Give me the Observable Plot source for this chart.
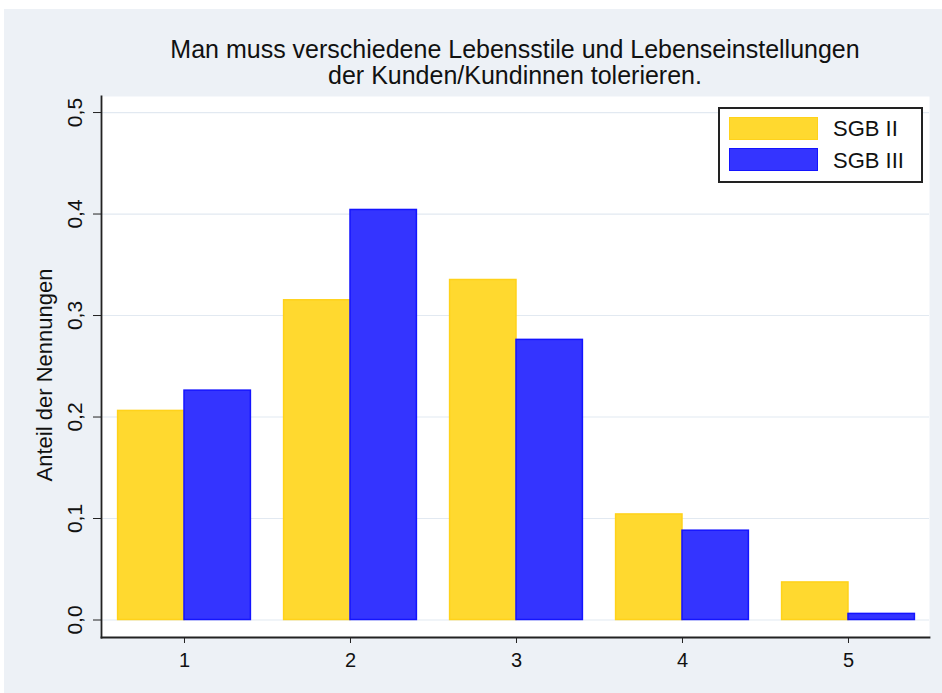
<!DOCTYPE html>
<html><head><meta charset="utf-8">
<script src="https://cdn.jsdelivr.net/npm/d3@7"></script>
<script src="https://cdn.jsdelivr.net/npm/@observablehq/plot@0.6"></script>
<style>
body{margin:0;background:#fff;font-family:"Liberation Sans",Arial,sans-serif;}
#wrap{position:absolute;left:4px;top:9px;width:938px;height:684px;background:#EDF1F6;overflow:hidden;}
#chart{position:absolute;left:0;top:0;}
#title{position:absolute;left:97px;width:828px;top:27px;text-align:center;font-size:25px;line-height:26px;color:#111;}
#ylab{position:absolute;left:41px;top:366px;transform:translate(-50%,-50%) rotate(-90deg);white-space:nowrap;font-size:22px;color:#111;}
#legend{position:absolute;left:714px;top:98px;width:201px;height:72px;background:#fff;border:2px solid #222;}
.sw{position:absolute;left:9px;width:89px;height:23px;box-sizing:border-box;}
.lt{position:absolute;left:113px;font-size:22px;line-height:22px;color:#111;transform:translateY(-50%);}
</style></head>
<body>
<div id="wrap">
<div id="chart"></div>
<div id="title">Man muss verschiedene Lebensstile und Lebenseinstellungen<br>der Kunden/Kundinnen tolerieren.</div>
<div id="ylab">Anteil der Nennungen</div>
<div id="legend"></div>
</div>
<script>
const categories = [1, 2, 3, 4, 5];
const seriesNames = ["SGB II", "SGB III"];
const sgb2 = [0.206, 0.315, 0.335, 0.104, 0.037];
const sgb3 = [0.226, 0.404, 0.276, 0.088, 0.006];
const yTicks = [0, 0.1, 0.2, 0.3, 0.4, 0.5];

const fills = {"SGB II": "#FFD92F", "SGB III": "#3434FF"};
const strokes = {"SGB II": "#FFD21A", "SGB III": "#1414FF"};

const data = [];
categories.forEach((c, i) => {
  data.push({cat: c, series: seriesNames[0], value: sgb2[i]});
  data.push({cat: c, series: seriesNames[1], value: sgb3[i]});
});
const fmt = d => d.toFixed(1).replace(".", ",");

const chart = Plot.plot({
  width: 938,
  height: 684,
  marginLeft: 97,
  marginRight: 13,
  marginTop: 87,
  marginBottom: 56,
  style: {background: "transparent", fontFamily: "Liberation Sans, Arial, sans-serif", color: "#111"},
  x: {type: "linear", domain: [0.5, 5.488]},
  y: {domain: [-0.01724, 0.5158]},
  marks: [
    Plot.frame({fill: "white", stroke: null}),
    Plot.gridY(yTicks, {stroke: "#E2E9F1", strokeOpacity: 1, strokeWidth: 1.2}),
    Plot.rectY(data, {
      x1: d => d.series === "SGB II" ? d.cat - 0.4 : d.cat,
      x2: d => d.series === "SGB II" ? d.cat : d.cat + 0.4,
      y1: 0,
      y2: "value",
      fill: d => fills[d.series],
      stroke: d => strokes[d.series],
      strokeWidth: 1.5
    }),
    Plot.axisY(yTicks, {tickSize: 8, tickPadding: 12, tickRotate: -90, tickFormat: fmt, fontSize: 21, label: null, stroke: "#222"}),
    Plot.axisX(categories, {tickSize: 6, tickPadding: 9, tickFormat: d => String(d), fontSize: 20, label: null, stroke: "#222"}),
    Plot.frame({anchor: "left", stroke: "#222", strokeWidth: 1.8}),
    Plot.frame({anchor: "bottom", stroke: "#222", strokeWidth: 1.8})
  ]
});
document.getElementById("chart").appendChild(chart);

const legend = document.getElementById("legend");
seriesNames.forEach((s, i) => {
  const sw = document.createElement("div");
  sw.className = "sw";
  sw.style.top = (i === 0 ? 8 : 39) + "px";
  sw.style.background = fills[s];
  sw.style.border = "1.5px solid " + strokes[s];
  legend.appendChild(sw);
  const t = document.createElement("div");
  t.className = "lt";
  t.style.top = (i === 0 ? 20 : 52) + "px";
  t.textContent = s;
  legend.appendChild(t);
});
</script>
</body></html>
